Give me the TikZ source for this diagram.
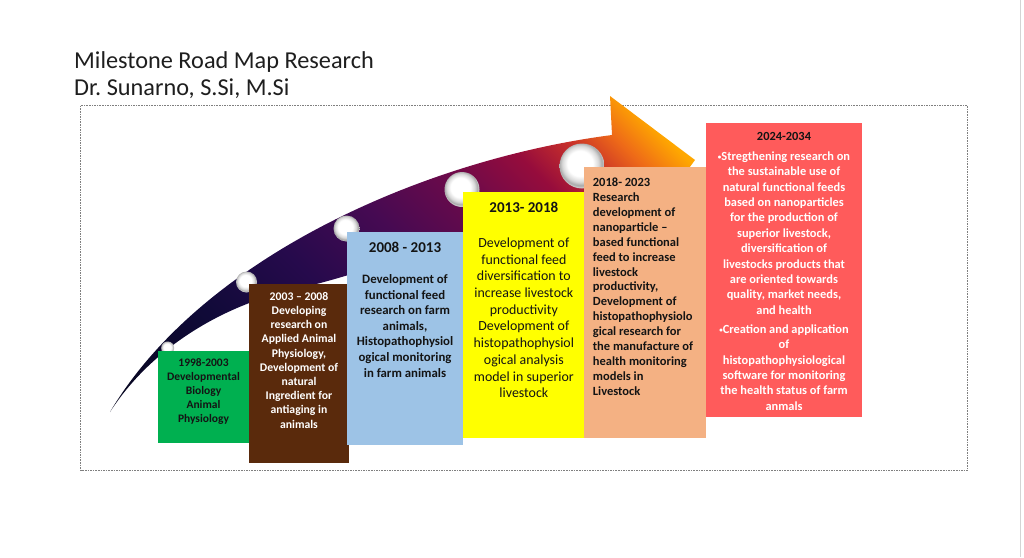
\documentclass[tikz,border=0pt]{standalone}
\usepackage{fontspec}
\setmainfont{Carlito}
\usetikzlibrary{positioning}
\frenchspacing

\definecolor{titlegray}{HTML}{1E1E1E}
\definecolor{framegray}{HTML}{7F7F7F}
\definecolor{edgegray}{HTML}{D4D4D4}
\definecolor{mgreen}{HTML}{00B050}
\definecolor{mbrown}{HTML}{5A2A0C}
\definecolor{mblue}{HTML}{9DC3E6}
\definecolor{myellow}{HTML}{FFFF00}
\definecolor{msalmon}{HTML}{F4B183}
\definecolor{mred}{HTML}{FF5B5B}
\definecolor{darktext}{HTML}{141414}
\definecolor{arrA}{HTML}{06061E}
\definecolor{arrB}{HTML}{100A38}
\definecolor{arrC}{HTML}{260A4C}
\definecolor{arrD}{HTML}{460A52}
\definecolor{arrE}{HTML}{6C0A4A}
\definecolor{arrF}{HTML}{960C3C}
\definecolor{arrG}{HTML}{C8302A}
\definecolor{arrH}{HTML}{EE6A18}
\definecolor{arrI}{HTML}{FFA800}

\pgfdeclarehorizontalshading{roadmapshade}{100bp}{color(0bp)=(arrA); color(15bp)=(arrA); color(30bp)=(arrB); color(41bp)=(arrC); color(51bp)=(arrD); color(60bp)=(arrE); color(67bp)=(arrF); color(72bp)=(arrG); color(76bp)=(arrH); color(80bp)=(arrI); color(100bp)=(arrI)}
\pgfdeclareradialshading{pearlshade}{\pgfpoint{-3bp}{4bp}}{color(0bp)=(white); color(14bp)=(white); color(20bp)=(black!15); color(24bp)=(black!35); color(25bp)=(black!22); color(50bp)=(black!22)}

\newcommand{\smallbullet}{\raisebox{1.2pt}{\fontsize{7}{7}\selectfont•}}

\begin{document}
\begin{tikzpicture}[x=1pt,y=-1pt,
    milebox/.style={rectangle,inner sep=0pt,outer sep=0pt,anchor=north west},
    miletext/.style={inner sep=0pt,align=center,font=\bfseries},
    pearl/.style={circle,inner sep=0pt,shading=pearlshade}]
            \useasboundingbox (0,0) rectangle (1024,557);
            \draw[edgegray,line width=0.8pt] (1020,0) -- (1020,557);

            \node (title) [anchor=base west,inner sep=0pt,text=titlegray,font=\fontsize{24.3}{26}\selectfont] at (74,68.3) {Milestone Road Map Research};
            \node (author) [anchor=base west,inner sep=0pt,text=titlegray,font=\fontsize{24.3}{26}\selectfont] at (74,95) {Dr. Sunarno, S.Si, M.Si};

            \draw[framegray,line width=0.7pt,dash pattern=on 1.6pt off 1pt] (80.7,105.7) rectangle (967.3,470.7);

            \shade[shading=roadmapshade,shading angle=45] (110,412) .. controls (200,260) and (420,160) .. (612,135) -- (610,96) -- (695,160) -- (645,228) -- (628,200) .. controls (480,225) and (380,270) .. (300,288) .. controls (220,305) and (150,350) .. (110,412) -- cycle;

            \node (pearl1) [pearl,minimum size=13pt] at (167.7,348) {};
            \node (pearl2) [pearl,minimum size=21pt] at (246.5,282) {};
            \node (pearl3) [pearl,minimum size=26pt] at (346.5,228.5) {};
            \node (pearl4) [pearl,minimum size=35pt] at (462,189.5) {};
            \node (pearl5) [pearl,minimum size=45pt] at (582,166) {};

            \node (box98) [milebox,fill=mgreen,minimum width=91pt,minimum height=92.6pt] at (158,350.7) {};
            \node (box03) [milebox,fill=mbrown,minimum width=100pt,minimum height=179pt] at (249,284.3) {};
            \node (box08) [milebox,fill=mblue,minimum width=115.4pt,minimum height=213pt] at (347.3,232) {};
            \node (box13) [milebox,fill=myellow,minimum width=122.3pt,minimum height=246.3pt] at (462.7,192) {};
            \node (box18) [milebox,fill=msalmon,minimum width=122pt,minimum height=270.7pt] at (584,167) {};
            \node (box24) [milebox,fill=mred,minimum width=156pt,minimum height=293.4pt] at (706,123.3) {};

            \node (text98) [miletext,text=darktext,font=\bfseries\fontsize{11.5}{14}\selectfont,below=7.4pt of box98.north] {1998-2003\\Developmental\\Biology\\Animal\\Physiology};
            \node (text03) [miletext,text=white,font=\bfseries\fontsize{11.7}{14.2}\selectfont,below=7.8pt of box03.north] {2003 – 2008\\Developing\\research on\\Applied Animal\\Physiology,\\Development of\\natural\\Ingredient for\\antiaging in\\animals};
            \node (text08) [miletext,text=darktext,font=\bfseries\fontsize{12.8}{15.6}\selectfont,below=10pt of box08.north] {{\fontsize{15}{15.6}\selectfont 2008 - 2013}\\[15.3pt]Development of\\functional feed\\research on farm\\animals,\\Histopathophysiol\\ogical monitoring\\in farm animals};
            \node (text13) [miletext,text=darktext,font=\fontsize{13.9}{16.7}\selectfont,below=10.3pt of box13.north] {{\bfseries\fontsize{15}{16.7}\selectfont 2013- 2018}\\[17.9pt]Development of\\functional feed\\diversification to\\increase livestock\\productivity\\Development of\\histopathophysiol\\ogical analysis\\model in superior\\livestock};
            \node (text18) [miletext,align=left,text=darktext,font=\bfseries\fontsize{12.5}{14.9}\selectfont,below right=10.8pt and 8.7pt of box18.north west] {2018- 2023\\Research\\development of\\nanoparticle –\\based functional\\feed to increase\\livestock\\productivity,\\Development of\\histopathophysiolo\\gical research for\\the manufacture of\\health monitoring\\models in\\Livestock};
            \node (text24) [miletext,text=white,font=\bfseries\fontsize{12.4}{15.4}\selectfont,below=8.6pt of box24.north] {\textcolor{darktext}{2024-2034}\\[4.6pt]\smallbullet Stregthening research on\\the sustainable use of\\natural functional feeds\\based on nanoparticles\\for the production of\\superior livestock,\\diversification of\\livestocks products that\\are oriented towards\\quality, market needs,\\and health\\[3.6pt]\smallbullet Creation and application\\of\\histopathophysiological\\software for monitoring\\the health status of farm\\anmals};

        \end{tikzpicture}
\end{document}
